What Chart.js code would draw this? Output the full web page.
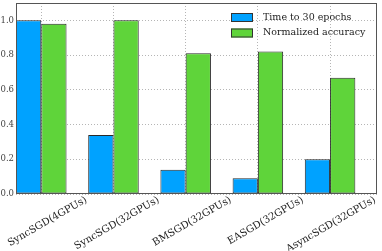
<!DOCTYPE html>
<html>
<head>
<meta charset="utf-8">
<script src="https://cdn.jsdelivr.net/npm/chart.js@4.4.0/dist/chart.umd.min.js"></script>
<style>
  html, body { margin: 0; padding: 0; background: #fff; }
  #wrap { width: 382px; height: 251px; }
</style>
</head>
<body>
<div id="wrap"><canvas id="chart"></canvas></div>
<script>
// data
const methods = ["SyncSGD(4GPUs)", "SyncSGD(32GPUs)", "BMSGD(32GPUs)", "EASGD(32GPUs)", "AsyncSGD(32GPUs)"];
const seriesNames = ["Time to 30 epochs", "Normalized accuracy"];
const timeTo30 = [1.0, 0.34, 0.14, 0.09, 0.20];
const accuracy = [0.98, 1.0, 0.81, 0.82, 0.67];
const yTicks = [0.0, 0.2, 0.4, 0.6, 0.8, 1.0];

const colors = ["#00a2ff", "#5fd43a"];
const serif = "'DejaVu Serif', serif";

// bars sit at index..index+0.7, label in the middle of each pair
const groupCenter = (i) => i + 0.35;

// frame round the plot + legend box in the upper right corner
const framePlugin = {
  id: "frame",
  afterDraw(chart) {
    const { ctx, chartArea: a } = chart;
    ctx.save();
    ctx.strokeStyle = "#555";
    ctx.lineWidth = 1;
    ctx.strokeRect(a.left + 0.5, a.top + 0.5, a.right - a.left - 1, a.bottom - a.top - 1);

    ctx.font = "9.5px " + serif;
    ctx.textBaseline = "middle";
    seriesNames.forEach((name, k) => {
      const bx = a.right - 146;
      const cy = a.top + 14.5 + k * 15.5;
      ctx.fillStyle = colors[k];
      ctx.fillRect(bx, cy - 4.5, 22, 9);
      ctx.strokeStyle = "#333";
      ctx.strokeRect(bx + 0.5, cy - 4.5 + 0.5, 21, 8);
      ctx.fillStyle = "#222";
      ctx.fillText(name, bx + 32, cy);
    });
    ctx.restore();
  }
};

const noPad = (scale) => {
  scale.paddingLeft = 0;
  scale.paddingRight = 0;
  scale.paddingTop = 0;
  scale.paddingBottom = 0;
};

new Chart(document.getElementById("chart"), {
  type: "bar",
  data: {
    datasets: [
      {
        label: seriesNames[0],
        data: timeTo30.map((v, i) => ({ x: groupCenter(i), y: v })),
        backgroundColor: colors[0],
        borderColor: "#2a2a2a",
        borderWidth: 1,
        borderSkipped: false,
      },
      {
        label: seriesNames[1],
        data: accuracy.map((v, i) => ({ x: groupCenter(i), y: v })),
        backgroundColor: colors[1],
        borderColor: "#2a2a2a",
        borderWidth: 1,
        borderSkipped: false,
      },
    ],
  },
  options: {
    responsive: true,
    maintainAspectRatio: false,
    animation: false,
    layout: { padding: { top: 3, right: 5, left: 0, bottom: 0 } },
    datasets: { bar: { categoryPercentage: 0.7, barPercentage: 1.0 } },
    scales: {
      x: {
        type: "linear",
        offset: false,
        min: 0,
        max: 5,
        afterBuildTicks: (scale) => {
          scale.ticks = methods.map((m, i) => ({ value: groupCenter(i) }));
        },
        afterFit: (scale) => { scale.height = 57; noPad(scale); },
        grid: { color: "#b5b5b5", drawTicks: false, offset: false },
        border: { display: false, dash: [1, 2] },
        ticks: {
          autoSkip: false,
          minRotation: 30,
          maxRotation: 30,
          padding: 0,
          labelOffset: 45,
          color: "#222",
          font: { family: serif, size: 10 },
          callback: (v, i) => methods[i],
        },
      },
      y: {
        min: 0,
        max: 1.1,
        afterBuildTicks: (scale) => {
          scale.ticks = yTicks.map((v) => ({ value: v }));
        },
        afterFit: (scale) => { scale.width = 16; noPad(scale); },
        grid: { color: "#b5b5b5", drawTicks: false },
        border: { display: false, dash: [1, 2] },
        ticks: {
          padding: 2,
          color: "#444",
          font: { family: serif, size: 8.5 },
          callback: (v) => v.toFixed(1),
        },
      },
    },
    plugins: {
      legend: { display: false },
      tooltip: { enabled: false },
    },
  },
  plugins: [framePlugin],
});
</script>
</body>
</html>
